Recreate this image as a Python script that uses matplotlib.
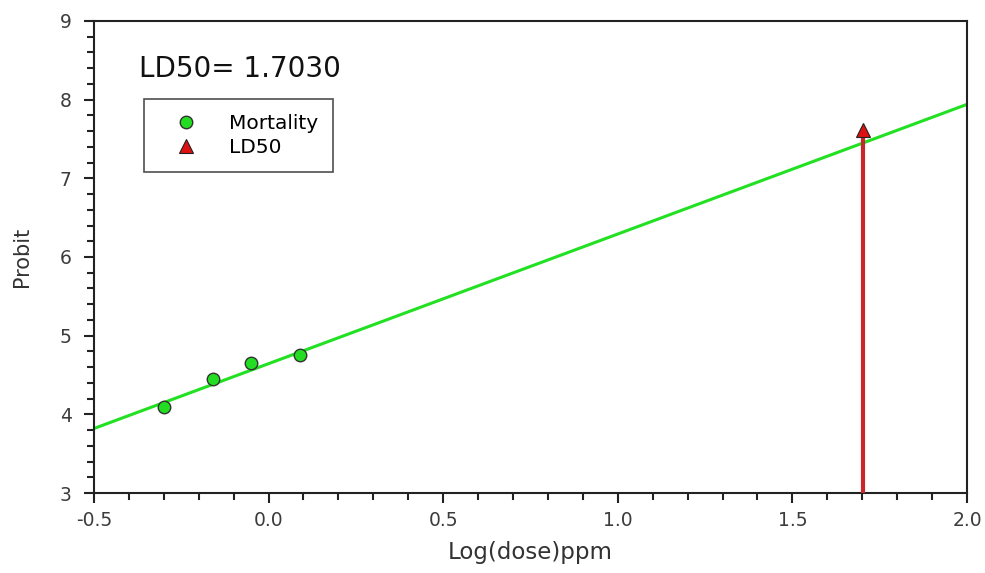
import numpy as np
import matplotlib.pyplot as plt
from matplotlib.ticker import MultipleLocator

plt.rcParams['font.family'] = ['DejaVu Sans']

# observed mortality points
log_dose = [-0.30, -0.16, -0.05, 0.09]
probit = [4.09, 4.45, 4.65, 4.75]

# fitted probit line
line_x = [-0.5, 2.0]
line_y = [3.82, 7.94]

# LD50 marker
ld50_x = 1.703
ld50_y = 7.61
ld50_text = "LD50= 1.7030"

fig = plt.figure(figsize=(9.85, 5.73), dpi=100)
ax = fig.add_axes([0.0954, 0.1396, 0.8863, 0.8238])

ax.plot(line_x, line_y, color='#22e022', lw=2.2, zorder=2)
ax.plot([ld50_x, ld50_x], [3, ld50_y], color='#c8282a', lw=3, zorder=3)
ax.plot(log_dose, probit, 'o', color='#22dd22', mec='#333333', mew=1, ms=9,
        zorder=4, label='Mortality')
ax.plot([ld50_x], [ld50_y], '^', color='#dd1111', mec='#222222', mew=0.8, ms=10,
        zorder=4, label='LD50')

ax.set_xlim(-0.5, 2.0)
ax.set_ylim(3, 9)
ax.xaxis.set_major_locator(MultipleLocator(0.5))
ax.xaxis.set_minor_locator(MultipleLocator(0.1))
ax.yaxis.set_major_locator(MultipleLocator(1))
ax.yaxis.set_minor_locator(MultipleLocator(0.2))
ax.xaxis.set_major_formatter(plt.FormatStrFormatter('%.1f'))
ax.tick_params(which='major', length=7, width=1.5, labelsize=13.5, colors='#222222',
               labelcolor='#3c3c3c')
ax.tick_params(which='minor', length=5, width=1.5, colors='#222222')
ax.tick_params(axis='x', pad=6)
ax.tick_params(axis='y', pad=9)
for s in ax.spines.values():
    s.set_linewidth(1.5)
    s.set_color('#222222')

ax.set_xlabel('Log(dose)ppm', fontsize=16.5, color='#333333', labelpad=8)
ax.set_ylabel('Probit', fontsize=15, color='#333333', labelpad=20)

ax.text(0.0515, 0.881, ld50_text, transform=ax.transAxes, fontsize=20,
        va='baseline', color='#111111')

leg = ax.legend(loc='upper left', bbox_to_anchor=(0.0573, 0.835), fontsize=14.5,
                frameon=True, fancybox=False, edgecolor='#222222', borderpad=0.75,
                handletextpad=0.75, borderaxespad=0, labelspacing=0.25, handlelength=2.7)
leg.get_frame().set_linewidth(1.2)

fig.savefig('out.png', dpi=100)
